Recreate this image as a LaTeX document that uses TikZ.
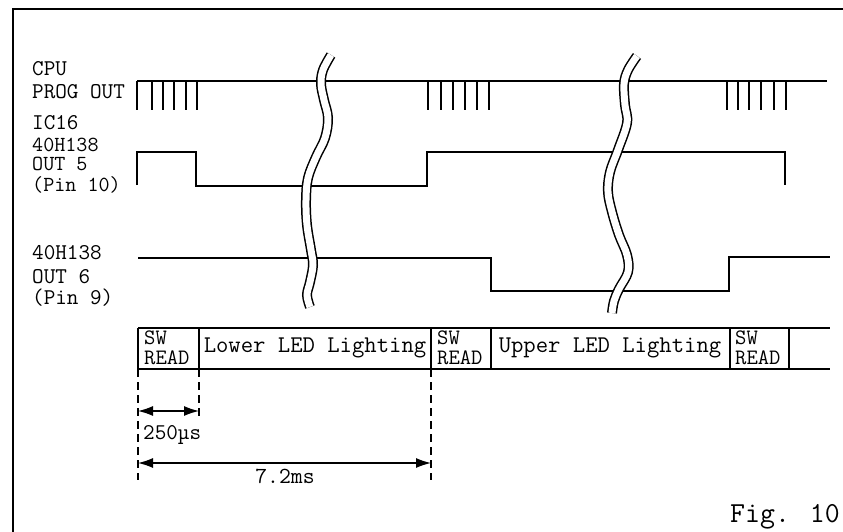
\documentclass[tikz,border=0pt]{standalone}
\usetikzlibrary{arrows.meta}
\begin{document}
\begin{tikzpicture}[x=1pt,y=-1pt,
  sig/.style={line width=1.5pt},
  frm/.style={line width=2.4pt},
  lbl/.style={font=\fontsize{22.5}{22.5}\selectfont\ttfamily, anchor=base west, inner sep=0pt},
  tight/.style={font=\fontsize{21.5}{21.5}\selectfont\ttfamily},
  cell/.style={font=\fontsize{24}{24}\selectfont\ttfamily, anchor=base, inner sep=0pt},
  swr/.style={font=\fontsize{22}{20}\selectfont\ttfamily, anchor=base west, inner sep=0pt, align=left},
  brk/.style={line width=1.5pt, double=white, double distance=7pt},
  dimline/.style={line width=1.2pt, dash pattern=on 8pt off 5pt},
  dimarr/.style={line width=1.3pt, {Latex[length=15pt,width=10pt]}-{Latex[length=15pt,width=10pt]}},
]
\useasboundingbox (0,0) rectangle (843,532);
% frame
\draw[frm] (13,532) -- (13,9) -- (843,9);

% labels
\node[lbl] (cpu)   at (32,76)  {CPU};
\node[lbl] (prog)  at (32,99)  {PROG OUT};
\node[lbl] (ic16)  at (32,129) {IC16};
\node[lbl,tight] (h1)    at (32,152) {40H138};
\node[lbl,tight] (out5)  at (32,171) {OUT 5};
\node[lbl,tight] (pin10) at (32,191) {(Pin 10)};
\node[lbl] (h2)    at (32,259) {40H138};
\node[lbl] (out6)  at (32,283) {OUT 6};
\node[lbl] (pin9)  at (32,304) {(Pin 9)};

% CPU PROG OUT
\draw[sig] (137,81) -- (827,81);
\foreach \x in {137,152,163,174,186,197, 428,441,453,465,477,489, 727,738,749,761,774,786}
  \draw[sig] (\x,81) -- (\x,110);

% OUT 5
\draw[sig] (137,185) -- (137,152) -- (196,152) -- (196,186) -- (427,186) -- (427,152) -- (785,152) -- (785,185);

% OUT 6
\draw[sig] (138,258) -- (491,258) -- (491,291) -- (729,291) -- (729,257) -- (830,257);

% break marks
\draw[brk] plot[smooth, tension=0.6] coordinates {(331,55) (323,70) (321,84) (324,100) (328,118) (325,138) (316,157) (308,178) (306,200) (307,225) (311,250) (313,265) (310,282) (307,295) (310,307)};
\draw[brk] plot[smooth, tension=0.6] coordinates {(637,56) (628,70) (624,84) (625,105) (627,123) (618,150) (610,172) (608,192) (612,212) (619,235) (627,255) (628,272) (619,289) (614,301) (612,313)};

% box row
\coordinate (b0) at (138,328);
\coordinate (b1) at (199,328);
\coordinate (b2) at (431,328);
\coordinate (b3) at (491,328);
\coordinate (b4) at (730,328);
\coordinate (b5) at (789,328);
\draw[sig] (138,328) -- (830,328);
\draw[sig] (138,369) -- (830,369);
\foreach \c in {b0,b1,b2,b3,b4,b5}
  \draw[sig] (\c) -- ++(0,41);

\node[swr] (sw1) at (144,364) {SW\\READ};
\node[cell] (lower) at (315,352) {Lower LED Lighting};
\node[swr] (sw2) at (437,364) {SW\\READ};
\node[cell] (upper) at (610,352) {Upper LED Lighting};
\node[swr] (sw3) at (735,364) {SW\\READ};

% dimension lines
\coordinate (d0) at (138,480);
\coordinate (d1) at (199,418);
\coordinate (d2) at (431,480);
\draw[dimline] (138,369) -- (d0);
\draw[dimline] (199,369) -- (d1);
\draw[dimline] (431,369) -- (d2);

\coordinate (a0) at (138,411);
\coordinate (a1) at (199,411);
\coordinate (c0) at (138,463);
\coordinate (c1) at (431,463);
\draw[dimarr] (a0) -- (a1);
\draw[dimarr] (c0) -- (c1);

\node[lbl] (t250) at (143,439) {250µs};
\node[cell, font=\fontsize{23}{23}\selectfont\ttfamily] (t72) at (285,483) {7.2ms};

\node[lbl, font=\fontsize{29}{29}\selectfont\ttfamily] (fig) at (730,522) {Fig. 10};
\end{tikzpicture}
\end{document}
